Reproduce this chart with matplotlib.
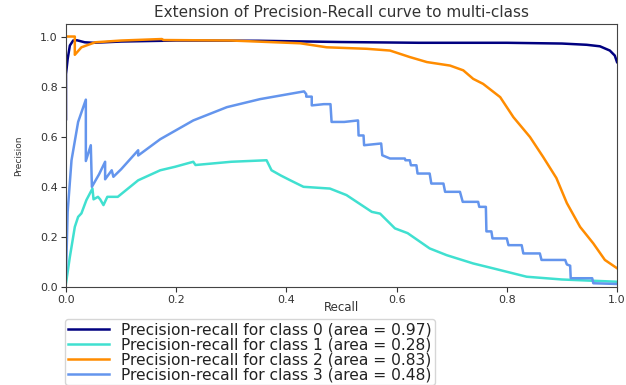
import matplotlib
matplotlib.use("Agg")
import matplotlib.pyplot as plt

# ---- data ----
title = "Extension of Precision-Recall curve to multi-class"
class_names = ["0", "1", "2", "3"]
areas = [0.97, 0.28, 0.83, 0.48]
colors = ["navy", "turquoise", "darkorange", "cornflowerblue"]

recall_0 = [0.0, 0.0, 0.003, 0.007, 0.013, 0.02, 0.034, 0.05, 0.1, 0.2, 0.35, 0.5,
            0.64, 0.8, 0.9, 0.945, 0.969, 0.987, 0.996, 1.0]
precision_0 = [0.67, 0.85, 0.91, 0.964, 0.984, 0.985, 0.977, 0.975, 0.98, 0.984, 0.983,
               0.978, 0.975, 0.975, 0.972, 0.967, 0.961, 0.944, 0.924, 0.898]

recall_1 = [0.0, 0.007, 0.016, 0.022, 0.028, 0.037, 0.048, 0.05, 0.058, 0.062, 0.068,
            0.075, 0.094, 0.131, 0.171, 0.198, 0.231, 0.235, 0.3, 0.364, 0.373, 0.39,
            0.407, 0.431, 0.479, 0.509, 0.555, 0.57, 0.597, 0.62, 0.66, 0.691, 0.739,
            0.776, 0.836, 0.9, 1.0]
precision_1 = [0.015, 0.12, 0.24, 0.28, 0.294, 0.347, 0.393, 0.35, 0.36, 0.35, 0.327,
               0.36, 0.36, 0.426, 0.466, 0.48, 0.5, 0.487, 0.5, 0.506, 0.466, 0.445,
               0.426, 0.4, 0.393, 0.367, 0.3, 0.293, 0.234, 0.215, 0.154, 0.127, 0.094,
               0.074, 0.041, 0.03, 0.021]

recall_2 = [0.0, 0.016, 0.016, 0.028, 0.053, 0.1, 0.174, 0.177, 0.3, 0.425, 0.473, 0.546,
            0.588, 0.624, 0.655, 0.697, 0.721, 0.739, 0.757, 0.788, 0.812, 0.842, 0.866,
            0.89, 0.909, 0.933, 0.957, 0.978, 1.0]
precision_2 = [1.0, 1.0, 0.927, 0.957, 0.977, 0.984, 0.99, 0.986, 0.984, 0.973, 0.957,
               0.951, 0.944, 0.918, 0.898, 0.884, 0.865, 0.831, 0.811, 0.758, 0.678,
               0.599, 0.519, 0.435, 0.335, 0.24, 0.174, 0.108, 0.075]

recall_3 = [0.0, 0.003, 0.010, 0.022, 0.036, 0.036, 0.045, 0.047, 0.06, 0.071, 0.071,
            0.083, 0.086, 0.1, 0.131, 0.131, 0.171, 0.231, 0.292, 0.352,
            0.432, 0.436, 0.436, 0.446, 0.446, 0.468, 0.48, 0.482, 0.505, 0.53, 0.531,
            0.54, 0.541, 0.572, 0.574, 0.588, 0.59, 0.615, 0.616, 0.624, 0.626, 0.636,
            0.638, 0.66, 0.663, 0.685, 0.688, 0.715, 0.72, 0.748, 0.75, 0.762, 0.763,
            0.772, 0.774, 0.8, 0.803, 0.827, 0.83, 0.86, 0.863, 0.906, 0.909, 0.915,
            0.916, 0.955, 0.957, 1.0]
precision_3 = [0.05, 0.3, 0.506, 0.659, 0.748, 0.503, 0.566, 0.40, 0.45, 0.5, 0.43,
               0.466, 0.44, 0.47, 0.546, 0.525, 0.59, 0.665, 0.718, 0.75,
               0.781, 0.77, 0.76, 0.76, 0.725, 0.73, 0.73, 0.659, 0.659, 0.665, 0.605,
               0.605, 0.566, 0.573, 0.526, 0.513, 0.513, 0.513, 0.506, 0.506, 0.486,
               0.486, 0.453, 0.453, 0.413, 0.413, 0.38, 0.38, 0.34, 0.34, 0.32, 0.32,
               0.222, 0.222, 0.194, 0.194, 0.167, 0.167, 0.134, 0.134, 0.108, 0.108,
               0.09, 0.085, 0.035, 0.035, 0.015, 0.012]

recalls = [recall_0, recall_1, recall_2, recall_3]
precisions = [precision_0, precision_1, precision_2, precision_3]

# ---- figure ----
fig = plt.figure(figsize=(6.26, 3.85), dpi=100)
ax = fig.add_axes([66 / 626, 1 - 287 / 385, (617 - 66) / 626, (287 - 24) / 385])

handles = []
for name, area, col, r, p in zip(class_names, areas, colors, recalls, precisions):
    h, = ax.plot(r, p, color=col, lw=1.8,
                 label="Precision-recall for class {0} (area = {1:0.2f})".format(name, area))
    handles.append(h)

ax.set_xlim(0.0, 1.0)
ax.set_ylim(0.0, 1.05)
ax.set_xticks([0.0, 0.2, 0.4, 0.6, 0.8, 1.0])
ax.set_yticks([0.0, 0.2, 0.4, 0.6, 0.8, 1.0])
ax.tick_params(labelsize=8, length=3.5, width=0.8, pad=2.5, colors="#333333")
for s in ax.spines.values():
    s.set_color("#444444")
    s.set_linewidth(0.8)

ax.set_xlabel("Recall", fontsize=8.5, color="#333333", labelpad=-3)
ax.set_ylabel("Precision", fontsize=6.5, color="#333333", labelpad=12)
ax.set_title(title, fontsize=11, color="#333333", pad=5)

leg = fig.legend(handles=handles, loc="upper left",
                 bbox_to_anchor=(65 / 626, 1 - 319 / 385),
                 fontsize=11.2, labelspacing=0.0, handlelength=2.6,
                 handletextpad=0.8, borderpad=0.2, borderaxespad=0.0,
                 frameon=True)
leg.get_frame().set_edgecolor("#cccccc")
for t in leg.get_texts():
    t.set_color("#222222")

fig.savefig("out.png", dpi=100)
